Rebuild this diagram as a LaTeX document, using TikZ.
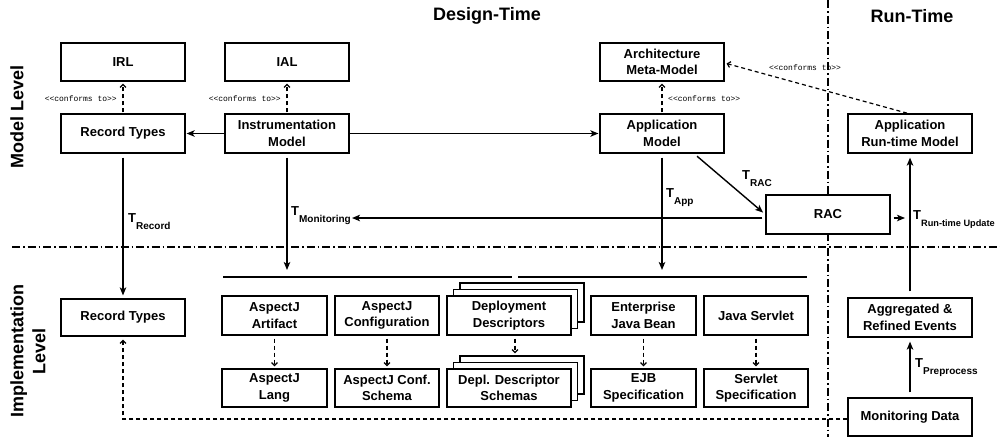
\documentclass[tikz,border=0pt]{standalone}
\usepackage{fontspec}
\setmainfont{Liberation Sans}
\newfontfamily\cfmono{Liberation Mono}
\usetikzlibrary{arrows.meta,calc}
\newcommand\Tlab[2][10]{T\raisebox{-7pt}{\fontsize{#1}{11}\selectfont #2}}
\newcommand\conf{\textless\textless conforms to\textgreater\textgreater}
\tikzset{
  box/.style={draw, line width=1.2pt, fill=white, minimum width=124pt, minimum height=39pt,
    align=center, font=\fontsize{13}{16.5}\selectfont\bfseries, inner sep=2pt},
  sbox/.style={box, minimum width=105pt},
  arr/.style={line width=1.4pt, -{Stealth[length=8pt,width=6.5pt,inset=2pt]}},
  darr/.style={line width=1.2pt, dash pattern=on 4pt off 3pt, -{Straight Barb[length=3pt,width=6pt]}},
  cf/.style={font=\cfmono\fontsize{8}{9}\selectfont, inner sep=1pt},
  tl/.style={font=\fontsize{13}{14}\selectfont\bfseries, anchor=base west, inner sep=0pt},
  sepline/.style={line width=1.1pt, dash pattern=on 8pt off 3pt on 1.5pt off 3pt},
  bar/.style={line width=1.4pt},
  head/.style={font=\fontsize{18}{20}\selectfont\bfseries, align=center},
}
\begin{document}
\begin{tikzpicture}[x=1pt,y=-1pt]
\useasboundingbox (0,0) rectangle (1000,437);
% separators
\draw[sepline] (828,0) -- (828,437);
\draw[sepline] (12,247) -- (1000,247);
% headings
\node[head] (dt) at (487,16) {Design-Time};
\node[head] (rt) at (912,16) {Run-Time};
\node[head, rotate=90] (ml) at (17,117) {Model Level};
\node[head, rotate=90, font=\fontsize{18}{22}\selectfont\bfseries] (il) at (28,351) {Implementation\\Level};
% model level
\node[box, minimum height=38pt] (IRL) at (123,62) {IRL};
\node[box, minimum height=38pt] (IAL) at (287,62) {IAL};
\node[box, minimum height=38pt] (AMM) at (662,62) {Architecture\\Meta-Model};
\node[box] (RT1) at (123,133.5) {Record Types};
\node[box] (IM) at (287,133.5) {Instrumentation\\Model};
\node[box] (AM) at (662,133.5) {Application\\Model};
\node[box] (ARM) at (910,133.5) {Application\\Run-time Model};
\node[box] (RAC) at (828,214.5) {RAC};
% implementation level
\node[box, minimum height=37pt] (RT2) at (123,317.5) {Record Types};
\node[sbox] (AJA) at (274.5,315.5) {AspectJ\\Artifact};
\node[sbox, minimum width=104pt] (AJC) at (387,315.5) {AspectJ\\Configuration};
\node[box] (DDb2) at (522,302.5) {};
\node[box] (DDb1) at (515.5,309) {};
\node[box] (DD) at (509,315.5) {Deployment\\Descriptors};
\node[sbox] (EJB) at (643.5,315.5) {Enterprise\\Java Bean};
\node[sbox, minimum width=104pt] (JS) at (756,315.5) {Java Servlet};
\node[sbox, minimum height=38pt] (AJL) at (274.5,388) {AspectJ\\Lang};
\node[sbox, minimum width=104pt, minimum height=38pt] (AJS) at (387,388) {AspectJ Conf.\\Schema};
\node[box, minimum height=38pt] (DDSb2) at (522,375) {};
\node[box, minimum height=38pt] (DDSb1) at (515.5,381.5) {};
\node[box, minimum height=38pt] (DDS) at (509,388) {Depl. Descriptor\\Schemas};
\node[sbox, minimum height=38pt] (EJBS) at (643.5,388) {EJB\\Specification};
\node[sbox, minimum width=104pt, minimum height=38pt] (JSS) at (756,388) {Servlet\\Specification};
\node[box] (ARE) at (910,317.5) {Aggregated \&\\Refined Events};
\node[box, minimum height=38pt] (MD) at (910,417) {Monitoring Data};
% bars
\coordinate (b1l) at (223,277);
\coordinate (b1r) at (512,277);
\coordinate (b2l) at (518,277);
\coordinate (b2r) at (807,277);
\draw[bar] (b1l) -- (b1r);
\draw[bar] (b2l) -- (b2r);
% conforms-to arrows
\draw[darr, shorten <=1pt, shorten >=2pt] (RT1.north) -- (IRL.south);
\node[cf, anchor=east] (c1) at (118,99) {\conf};
\draw[darr, shorten <=1pt, shorten >=2pt] (IM.north) -- (IAL.south);
\node[cf, anchor=east] (c2) at (282,99) {\conf};
\draw[darr, shorten <=1pt, shorten >=2pt] (AM.north) -- (AMM.south);
\node[cf, anchor=west] (c3) at (667,99) {\conf};
\draw[darr, shorten <=1pt, shorten >=2pt] ([xshift=-2pt]ARM.north) -- ([yshift=-1pt]AMM.east);
\node[cf] (c4) at (805,68) {\conf};
% model-level arrows
\draw[arr, shorten >=1pt] (IM.west) -- (RT1.east);
\draw[arr, shorten >=1pt] (IM.east) -- (AM.west);
\draw[arr, shorten <=4pt, shorten >=3pt] (RT1.south) -- (RT2.north);
\node[tl] (trec) at (128,222) {\Tlab{Record}};
\draw[arr, shorten <=4pt, shorten >=7pt] (IM.south) -- (IM.south |- b1l);
\node[tl] (tmon) at (291,215) {\Tlab{Monitoring}};
\draw[arr, shorten <=4pt, shorten >=7pt] (AM.south) -- (AM.south |- b2l);
\node[tl] (tapp) at (666,197) {\Tlab{App}};
\draw[arr, shorten <=4pt, shorten >=3pt] ([xshift=32pt]AM.south) -- (RAC.west);
\node[tl] (trac) at (742,179) {\Tlab{RAC}};
\draw[arr, shorten <=3pt, shorten >=1pt] ([yshift=-3.5pt]RAC.west) -- ([yshift=-3.5pt]RAC.west -| tmon.east);
\draw[arr, shorten <=3pt, shorten >=5pt] ([yshift=-3.5pt]RAC.east) -- ([yshift=-3.5pt]RAC.east -| ARE.north);
\node[tl] (tupd) at (913,219) {\Tlab[9.2]{Run-time Update}};
\draw[arr, shorten <=6pt, shorten >=4pt] (ARE.north) -- (ARM.south);
\draw[arr, shorten <=5pt, shorten >=4pt] (MD.north) -- (ARE.south);
\node[tl] (tpre) at (915,367) {\Tlab{Preprocess}};
% implementation dashed arrows
\draw[darr, shorten <=3pt, shorten >=2pt] (AJA.south) -- (AJL.north);
\draw[darr, shorten <=3pt, shorten >=2pt] (AJC.south) -- (AJS.north);
\draw[darr, shorten <=3pt, shorten >=2pt] ([xshift=6pt]DD.south) -- ([xshift=-7pt]DDSb2.north);
\draw[darr, shorten <=3pt, shorten >=2pt] (EJB.south) -- (EJBS.north);
\draw[darr, shorten <=3pt, shorten >=2pt] (JS.south) -- (JSS.north);
\draw[darr, shorten >=3pt] ([yshift=-2pt]MD.west) -| (RT2.south);
\end{tikzpicture}
\end{document}
